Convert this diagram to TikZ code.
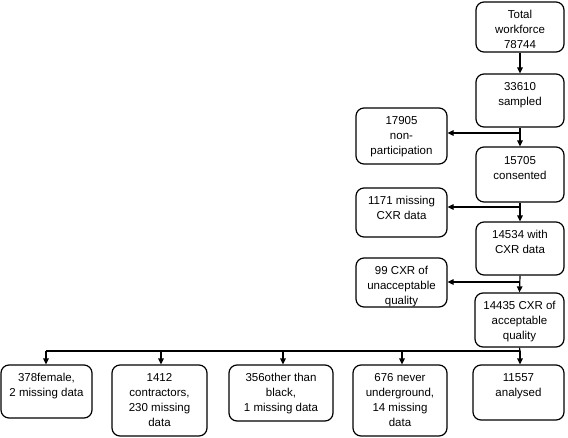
\documentclass[tikz,border=0pt]{standalone}
\usepackage{fontspec}
\setmainfont{Liberation Sans}
\usetikzlibrary{arrows.meta}
\tikzset{
  flowbox/.style={draw=black, line width=1.2pt, rounded corners=8pt, inner sep=0pt, fill=white},
  boxtext/.style={inner sep=0pt, align=center, anchor=north, font=\fontsize{11.5}{15}\selectfont},
  link/.style={draw=black, line width=1.2pt},
  arr/.style={link, -{Triangle[length=6pt,width=5.5pt]}}
}
\newcommand{\flownode}[7]{%
  \node[flowbox, minimum width=#4pt, minimum height=#5pt] (#1) at (#2,#3) {};
  \node[boxtext] (#1t) at ([yshift=-#6pt]#1.north) {#7};
}
\begin{document}
\begin{tikzpicture}[x=1pt,y=-1pt]
\useasboundingbox (0,0) rectangle (568,437);
% right column
\flownode{A}{520}{27}{88}{50}{9}{Total\\workforce\\78744}
\flownode{B}{520}{100.5}{88}{53}{9}{33610\\sampled}
\flownode{C}{520}{174.5}{88}{55}{10}{15705\\consented}
\flownode{D}{520}{248.5}{88}{53}{9}{14534 with\\CXR data}
\flownode{E}{519.5}{320}{89}{54}{9}{14435 CXR of\\acceptable\\quality}
% left column
\flownode{L1}{401.5}{136}{91}{56}{9}{17905\\non-\\participation}
\flownode{L2}{401.5}{212.5}{91}{49}{9}{1171 missing\\CXR data}
\flownode{L3}{401.5}{282.5}{91}{49}{9}{99 CXR of\\unacceptable\\quality}
% bottom row
\flownode{P1}{46.5}{391.5}{91}{53}{9}{378female,\\2 missing data}
\flownode{P2}{159.5}{400.5}{95}{71}{9}{1412\\contractors,\\230 missing\\data}
\flownode{P3}{281}{393}{104}{56}{9}{356other than\\black,\\1 missing data}
\flownode{P4}{400}{400.5}{94}{71}{9}{676 never\\underground,\\14 missing\\data}
\flownode{P5}{518.5}{392.5}{91}{55}{9}{11557\\analysed}
% vertical chain
\draw[arr] (A.south) -- (B.north);
\draw[arr] (B.south) -- (C.north);
\draw[arr] (C.south) -- (D.north);
\draw[arr] (D.south) -- (E.north);
% side branches
\coordinate (j1) at (520,133);
\coordinate (j2) at (520,207);
\coordinate (j3) at (520,282);
\draw[arr] (j1) -- (j1 -| L1.east);
\draw[arr] (j2) -- (j2 -| L2.east);
\draw[arr] (j3) -- (j3 -| L3.east);
% bottom bus
\coordinate (bus) at (520,351);
\draw[link] (E.south) -- (bus);
\draw[link] (bus) -- (46,351);
\coordinate (bx1) at (46,351);
\coordinate (bx2) at (161,351);
\coordinate (bx3) at (283,351);
\coordinate (bx4) at (402,351);
\draw[arr] (bx1) -- (bx1 |- P1.north);
\draw[arr] (bx2) -- (bx2 |- P2.north);
\draw[arr] (bx3) -- (bx3 |- P3.north);
\draw[arr] (bx4) -- (bx4 |- P4.north);
\draw[arr] (bus) -- (bus |- P5.north);
\end{tikzpicture}
\end{document}
